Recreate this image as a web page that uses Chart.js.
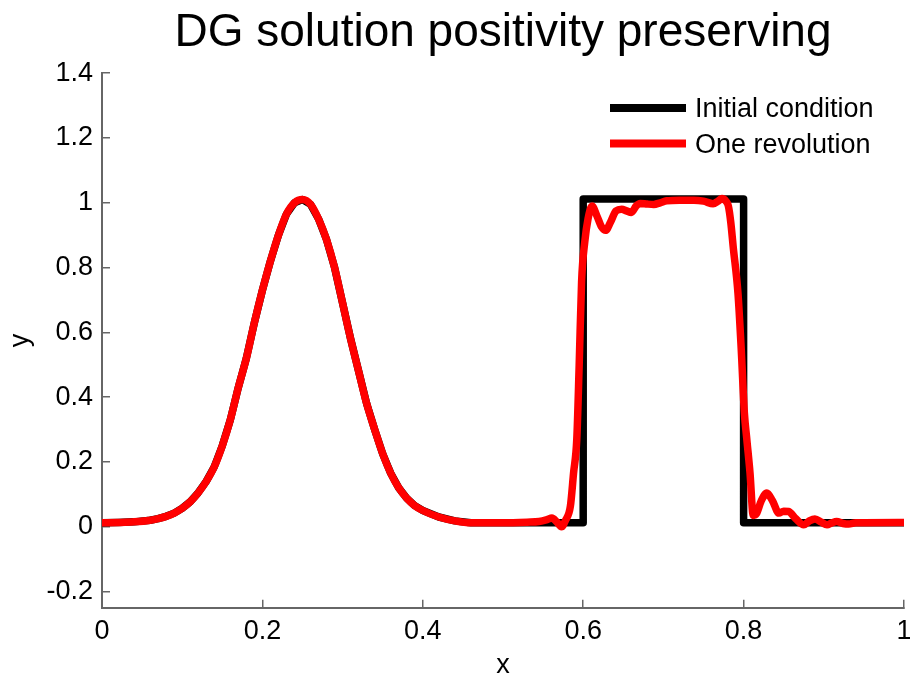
<!DOCTYPE html>
<html lang="en">
<head>
<meta charset="UTF-8">
<title>DG solution positivity preserving</title>
<script src="https://cdn.jsdelivr.net/npm/chart.js"></script>
<style>
    html, body { margin: 0; padding: 0; background: #fff; }
    #wrap { width: 910px; height: 682px; }
</style>
</head>
<body>
<div id="wrap"><canvas id="myChart"></canvas></div>
<script>
    // tick values and labels
    const xTicks = [0, 0.2, 0.4, 0.6, 0.8, 1];
    const xTickLabels = ['0', '0.2', '0.4', '0.6', '0.8', '1'];
    const yTicks = [-0.2, 0, 0.2, 0.4, 0.6, 0.8, 1, 1.2, 1.4];
    const yTickLabels = ['-0.2', '0', '0.2', '0.4', '0.6', '0.8', '1', '1.2', '1.4'];

    const seriesNames = ['Initial condition', 'One revolution'];

    // initial condition (gaussian is hidden under the red line)
    const initX = [0, 0.02, 0.04, 0.06, 0.07, 0.08, 0.09, 0.10, 0.11, 0.12, 0.13, 0.14, 0.15, 0.16, 0.17, 0.18, 0.19,
        0.20, 0.21, 0.22, 0.23, 0.24, 0.25, 0.26, 0.27, 0.28, 0.29, 0.30, 0.31, 0.32, 0.33, 0.34, 0.35, 0.36, 0.37,
        0.38, 0.39, 0.40, 0.42, 0.44, 0.46, 0.6, 0.6, 0.8, 0.8, 1];
    const initY = [0.012, 0.013, 0.015, 0.02, 0.025, 0.032, 0.042, 0.057, 0.077, 0.105, 0.14, 0.185, 0.25, 0.33, 0.43, 0.52, 0.63,
        0.73, 0.82, 0.90, 0.965, 1.0, 1.01, 0.995, 0.95, 0.886, 0.80, 0.69, 0.58, 0.48, 0.38, 0.30, 0.225, 0.165, 0.12,
        0.088, 0.065, 0.05, 0.03, 0.018, 0.012, 0.012, 1.012, 1.012, 0.012, 0.012];

    // DG solution after one revolution
    const revX = [0, 0.02, 0.04, 0.06, 0.07, 0.08, 0.09, 0.10, 0.11, 0.12, 0.13, 0.14, 0.15, 0.16, 0.17, 0.18, 0.19,
        0.20, 0.21, 0.22, 0.23, 0.24, 0.25, 0.26, 0.27, 0.28, 0.29, 0.30, 0.31, 0.32, 0.33, 0.34, 0.35, 0.36, 0.37,
        0.38, 0.39, 0.40, 0.42, 0.44, 0.46, 0.50, 0.53, 0.545, 0.555, 0.561, 0.567, 0.573, 0.578, 0.584, 0.588, 0.592,
        0.595, 0.598, 0.602, 0.606, 0.611, 0.617, 0.623, 0.628, 0.634, 0.641, 0.648, 0.654, 0.660, 0.666, 0.671,
        0.680, 0.688, 0.696, 0.704, 0.72, 0.738, 0.75, 0.762, 0.768, 0.773, 0.778, 0.781, 0.784, 0.787, 0.793, 0.797,
        0.801, 0.804, 0.808, 0.812, 0.816, 0.822, 0.829, 0.836, 0.844, 0.850, 0.856, 0.865, 0.875, 0.882, 0.889,
        0.897, 0.904, 0.91, 0.916, 0.924, 0.931, 0.94, 1];
    const revY = [0.012, 0.013, 0.015, 0.02, 0.025, 0.032, 0.042, 0.057, 0.077, 0.105, 0.14, 0.185, 0.25, 0.33, 0.43, 0.52, 0.63,
        0.73, 0.82, 0.90, 0.965, 1.0, 1.01, 0.995, 0.95, 0.886, 0.80, 0.69, 0.58, 0.48, 0.38, 0.30, 0.225, 0.165, 0.12,
        0.088, 0.065, 0.05, 0.03, 0.018, 0.012, 0.012, 0.014, 0.016, 0.022, 0.027, 0.015, 0.0, 0.02, 0.063, 0.166, 0.27,
        0.5, 0.757, 0.88, 0.95, 0.99, 0.96, 0.925, 0.915, 0.94, 0.975, 0.98, 0.975, 0.97, 0.99, 0.998,
        0.996, 0.995, 1.0, 1.006, 1.008, 1.008, 1.005, 0.997, 1.005, 1.013, 1.005, 0.99, 0.94, 0.865, 0.72, 0.55,
        0.35, 0.27, 0.166, 0.035, 0.04, 0.08, 0.104, 0.08, 0.042, 0.048, 0.047, 0.025, 0.006, 0.018, 0.024,
        0.014, 0.006, 0.012, 0.016, 0.01, 0.008, 0.012, 0.013];

    const FONT = '"Liberation Sans", Arial, Helvetica, sans-serif';
    const AXIS = '#666';

    // legend drawn inside the plot, top right
    const insideLegend = {
        id: 'insideLegend',
        afterDatasetsDraw(chart) {
            const ctx = chart.ctx;
            const x0 = chart.chartArea.right - 294;
            ctx.save();
            ctx.font = '27px ' + FONT;
            ctx.textBaseline = 'middle';
            ctx.textAlign = 'left';
            chart.data.datasets.forEach((ds, i) => {
                const y = 108 + i * 35.5;
                ctx.strokeStyle = ds.borderColor;
                ctx.lineWidth = 8;
                ctx.beginPath();
                ctx.moveTo(x0, y);
                ctx.lineTo(x0 + 76, y);
                ctx.stroke();
                ctx.fillStyle = '#000';
                ctx.fillText(ds.label, x0 + 85, y + 2);
            });
            ctx.restore();
        }
    };

    const ctx = document.getElementById('myChart').getContext('2d');
    const myChart = new Chart(ctx, {
        type: 'line',
        data: {
            datasets: [{
                label: seriesNames[0],
                data: initX.map((x, i) => ({ x: x, y: initY[i] })),
                borderColor: '#000000',
                borderWidth: 7.5,
                tension: 0,
                order: 2
            }, {
                label: seriesNames[1],
                data: revX.map((x, i) => ({ x: x, y: revY[i] })),
                borderColor: '#ff0000',
                borderWidth: 7.5,
                cubicInterpolationMode: 'monotone',
                order: 1
            }]
        },
        options: {
            responsive: true,
            maintainAspectRatio: false,
            animation: false,
            devicePixelRatio: 1,
            layout: { padding: { right: 6 } },
            elements: { point: { radius: 0 }, line: { borderJoinStyle: 'round', borderCapStyle: 'round' } },
            plugins: {
                legend: { display: false },
                tooltip: { enabled: false },
                title: {
                    display: true,
                    text: 'DG solution positivity preserving',
                    color: '#000',
                    font: { family: FONT, size: 46, weight: 'normal' },
                    padding: { top: 6, bottom: 12 },
                    fullSize: false
                }
            },
            scales: {
                x: {
                    type: 'linear',
                    min: 0,
                    max: 1,
                    grid: { display: true, drawOnChartArea: false, drawTicks: true, tickLength: -8, color: AXIS, lineWidth: 1.5 },
                    border: { display: true, color: AXIS, width: 2 },
                    ticks: {
                        padding: 16,
                        color: '#000',
                        font: { family: FONT, size: 27 },
                        maxRotation: 0,
                        callback: (v, i) => xTickLabels[i]
                    },
                    title: { display: true, text: 'x', color: '#000', font: { family: FONT, size: 27 }, padding: { top: 0, bottom: 0 } },
                    afterBuildTicks: s => { s.ticks = xTicks.map(v => ({ value: v })); },
                    afterFit: s => { s.height = 74.3; s.paddingLeft = 0; s.paddingRight = 0; }
                },
                y: {
                    type: 'linear',
                    min: -0.25,
                    max: 1.4,
                    grid: { display: true, drawOnChartArea: false, drawTicks: true, tickLength: -8, color: AXIS, lineWidth: 1.5 },
                    border: { display: true, color: AXIS, width: 2 },
                    ticks: {
                        padding: 17,
                        color: '#000',
                        font: { family: FONT, size: 27 },
                        callback: (v, i) => yTickLabels[i]
                    },
                    title: { display: true, text: 'y', color: '#000', font: { family: FONT, size: 27 }, padding: { top: 4, bottom: 0 } },
                    afterBuildTicks: s => { s.ticks = yTicks.map(v => ({ value: v })); },
                    afterFit: s => { s.width = 102; s.paddingTop = 0; s.paddingBottom = 0; }
                }
            }
        },
        plugins: [insideLegend]
    });
</script>
</body>
</html>
